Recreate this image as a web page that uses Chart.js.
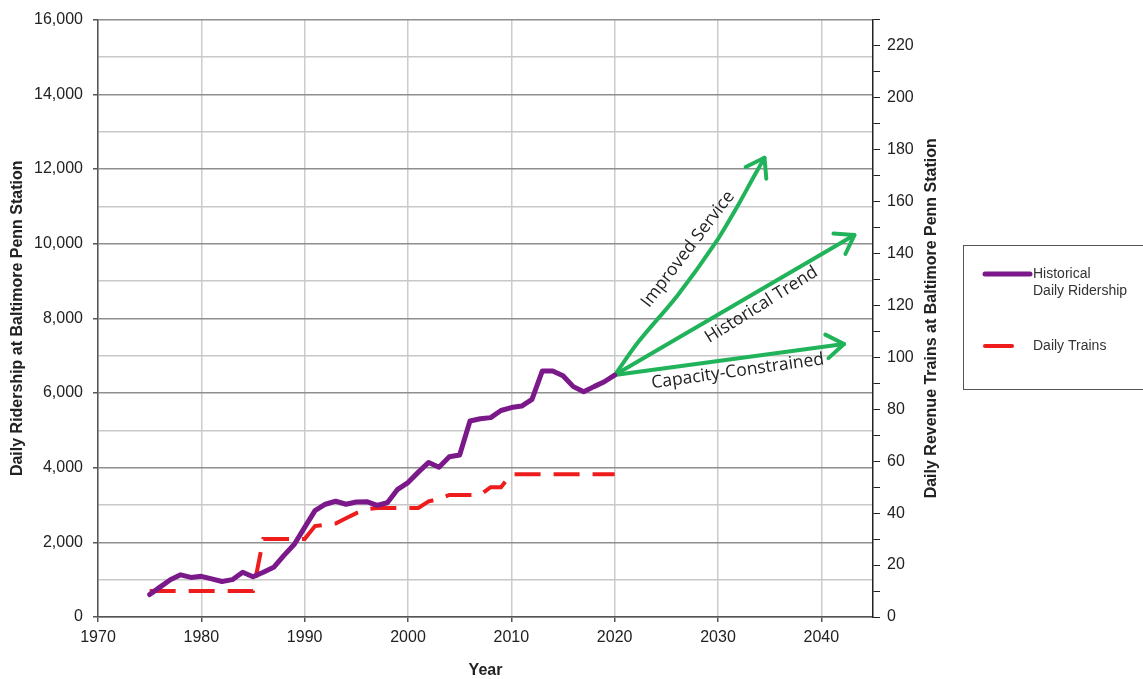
<!DOCTYPE html>
<html lang="en">
<head>
<meta charset="UTF-8">
<title>Baltimore Penn Station Ridership</title>
<script src="https://cdn.jsdelivr.net/npm/chart.js"></script>
<style>
    body { margin: 0; background: #fff; }
    #wrap { position: relative; width: 1143px; height: 679px; }
</style>
</head>
<body>
<div id="wrap"><canvas id="myChart"></canvas></div>
<script>
// historical series (one value per year)
const years = [1975, 1976, 1977, 1978, 1979, 1980, 1981, 1982, 1983, 1984,
               1985, 1986, 1987, 1988, 1989, 1990, 1991, 1992, 1993, 1994,
               1995, 1996, 1997, 1998, 1999, 2000, 2001, 2002, 2003, 2004,
               2005, 2006, 2007, 2008, 2009, 2010, 2011, 2012, 2013, 2014,
               2015, 2016, 2017, 2018, 2019, 2020];
const ridership = [600, 800, 1000, 1130, 1060, 1090, 1020, 950, 1000, 1200,
                   1080, 1200, 1330, 1650, 1950, 2400, 2850, 3020, 3100, 3020,
                   3080, 3090, 2990, 3060, 3420, 3600, 3880, 4140, 4010, 4290,
                   4340, 5250, 5310, 5340, 5530, 5610, 5650, 5830, 6590, 6590,
                   6460, 6170, 6030, 6170, 6300, 6480];
const dailyTrains = [10, 10, 10, 10, 10, 10, 10, 10, 10, 10,
                     10, 30, 30, 30, 30, 30, 35, 35.5, 36, 38,
                     40, 41.5, 42, 42, 42, 42, 42, 44.5, 45.5, 47,
                     47, 47, 47, 50, 50, 55, 55, 55, 55, 55,
                     55, 55, 55, 55, 55, 55];

// projections
const improvedYears = [2020, 2022.3, 2026.1, 2029.8, 2031.9, 2033.5, 2034.5];
const improvedValues = [6480, 7370, 8620, 10040, 11010, 11810, 12300];
const trendYears = [2020, 2043.2];
const trendValues = [6480, 10230];
const capacityYears = [2020, 2042.2];
const capacityValues = [6480, 7310];

const arrowLabels = [
    { text: 'Improved Service', x: 2027.1, y: 9850, angle: -52.6 },
    { text: 'Historical Trend', x: 2034.2, y: 8360, angle: -32 },
    { text: 'Capacity-Constrained', x: 2031.9, y: 6580, angle: -8 }
];

const PURPLE = '#7b188a';
const RED = '#ee1c1c';
const GREEN = '#21b35a';

function pts(xs, ys) {
    return xs.map((x, i) => ({ x: x, y: ys[i] }));
}

Chart.defaults.font.family = "'Liberation Sans', Arial, sans-serif";
Chart.defaults.font.size = 16;
Chart.defaults.color = '#222';

// arrow heads + labels along the projection lines
const arrowPlugin = {
    id: 'arrowPlugin',
    afterDatasetsDraw(chart) {
        const ctx = chart.ctx;
        ctx.save();
        chart.data.datasets.forEach((ds, i) => {
            if (!ds.arrow) return;
            const pts = chart.getDatasetMeta(i).data;
            const tip = pts[pts.length - 1];
            const prev = pts[pts.length - 2];
            const ang = Math.atan2(tip.y - prev.y, tip.x - prev.x);
            const len = 21, spread = 0.6;
            ctx.strokeStyle = ds.borderColor;
            ctx.lineWidth = 4;
            ctx.lineCap = 'round';
            ctx.lineJoin = 'round';
            ctx.beginPath();
            ctx.moveTo(tip.x - len * Math.cos(ang - spread), tip.y - len * Math.sin(ang - spread));
            ctx.lineTo(tip.x, tip.y);
            ctx.lineTo(tip.x - len * Math.cos(ang + spread), tip.y - len * Math.sin(ang + spread));
            ctx.stroke();
        });
        const xs = chart.scales.x, ys = chart.scales.y;
        ctx.fillStyle = '#222';
        ctx.font = "17.5px 'Open Sans', sans-serif";
        ctx.textAlign = 'center';
        ctx.textBaseline = 'middle';
        arrowLabels.forEach(l => {
            ctx.save();
            ctx.translate(xs.getPixelForValue(l.x), ys.getPixelForValue(l.y));
            ctx.rotate(l.angle * Math.PI / 180);
            ctx.fillText(l.text, 0, 0);
            ctx.restore();
        });
        ctx.restore();
    }
};

// right axis title (reads bottom-to-top) and the legend box
const extrasPlugin = {
    id: 'extrasPlugin',
    afterDraw(chart) {
        const ctx = chart.ctx;
        const area = chart.chartArea;
        ctx.save();
        ctx.fillStyle = '#222';
        ctx.font = "bold 16px 'Liberation Sans', Arial, sans-serif";
        ctx.textAlign = 'center';
        ctx.textBaseline = 'middle';
        ctx.translate(932, (area.top + area.bottom) / 2);
        ctx.rotate(-Math.PI / 2);
        ctx.fillText('Daily Revenue Trains at Baltimore Penn Station', 0, 0);
        ctx.restore();

        ctx.save();
        ctx.strokeStyle = '#555';
        ctx.lineWidth = 1;
        ctx.strokeRect(963.5, 245.5, 200, 144);
        ctx.lineCap = 'round';
        ctx.strokeStyle = PURPLE;
        ctx.lineWidth = 5;
        ctx.beginPath(); ctx.moveTo(985, 274); ctx.lineTo(1030, 274); ctx.stroke();
        ctx.strokeStyle = RED;
        ctx.lineWidth = 4;
        ctx.beginPath(); ctx.moveTo(985, 346); ctx.lineTo(1012, 346); ctx.stroke();
        ctx.fillStyle = '#333';
        ctx.font = "14px 'Liberation Sans', Arial, sans-serif";
        ctx.textBaseline = 'middle';
        ctx.fillText('Historical', 1033, 274);
        ctx.fillText('Daily Ridership', 1033, 291);
        ctx.fillText('Daily Trains', 1033, 346);
        ctx.restore();
    }
};

const ctx = document.getElementById('myChart').getContext('2d');
const myChart = new Chart(ctx, {
    type: 'line',
    data: {
        datasets: [
            {
                label: 'Historical Daily Ridership',
                data: pts(years, ridership),
                borderColor: PURPLE,
                borderWidth: 5,
                borderJoinStyle: 'round',
                borderCapStyle: 'round',
                pointRadius: 0,
                tension: 0,
                yAxisID: 'y'
            },
            {
                label: 'Daily Trains',
                data: pts(years, dailyTrains),
                borderColor: RED,
                borderWidth: 4,
                borderDash: [26, 13],
                pointRadius: 0,
                tension: 0,
                yAxisID: 'y2'
            },
            {
                label: 'Improved Service',
                data: pts(improvedYears, improvedValues),
                borderColor: GREEN,
                borderWidth: 4,
                borderCapStyle: 'round',
                pointRadius: 0,
                tension: 0.3,
                arrow: true,
                yAxisID: 'y'
            },
            {
                label: 'Historical Trend',
                data: pts(trendYears, trendValues),
                borderColor: GREEN,
                borderWidth: 4,
                borderCapStyle: 'round',
                pointRadius: 0,
                arrow: true,
                yAxisID: 'y'
            },
            {
                label: 'Capacity-Constrained',
                data: pts(capacityYears, capacityValues),
                borderColor: GREEN,
                borderWidth: 4,
                borderCapStyle: 'round',
                pointRadius: 0,
                arrow: true,
                yAxisID: 'y'
            }
        ]
    },
    options: {
        responsive: true,
        maintainAspectRatio: false,
        animation: false,
        layout: { padding: { top: 16, right: 210, bottom: 0, left: 0 } },
        plugins: {
            legend: { display: false },
            tooltip: { enabled: false }
        },
        scales: {
            x: {
                type: 'linear',
                min: 1970,
                max: 2045,
                afterFit: s => { s.height = 62; },
                ticks: {
                    stepSize: 10,
                    includeBounds: false,
                    padding: 6,
                    callback: v => String(v)
                },
                grid: { color: '#cccccc', lineWidth: 1.5, tickLength: 5, tickColor: '#555' },
                border: { color: '#555', width: 1.5 },
                title: {
                    display: true,
                    text: 'Year',
                    font: { weight: 'bold', size: 16, lineHeight: 1 },
                    padding: { top: 0, bottom: 0 }
                }
            },
            y: {
                position: 'left',
                min: 0,
                max: 16000,
                afterFit: s => { s.width = 98; },
                ticks: {
                    stepSize: 1000,
                    padding: 10,
                    callback: v => v % 2000 === 0 ? v.toLocaleString('en-US') : ''
                },
                grid: {
                    color: c => c.tick && c.tick.value % 2000 === 0 ? '#8e8e8e' : '#c8c8c8',
                    lineWidth: 1.5,
                    tickLength: 5,
                    tickColor: c => c.tick && c.tick.value % 2000 === 0 ? '#555' : 'rgba(0,0,0,0)'
                },
                border: { color: '#555', width: 1.5 },
                title: {
                    display: true,
                    text: 'Daily Ridership at Baltimore Penn Station',
                    font: { weight: 'bold', size: 16, lineHeight: 1 },
                    padding: { top: 10, bottom: 0 }
                }
            },
            y2: {
                position: 'right',
                min: 0,
                max: 230,
                afterFit: s => { s.width = 60; },
                ticks: {
                    stepSize: 10,
                    includeBounds: false,
                    padding: 7,
                    callback: v => v % 20 === 0 ? String(v) : ''
                },
                grid: { drawOnChartArea: false, tickLength: 7, tickColor: '#222' },
                border: { color: '#222', width: 1.5 }
            }
        }
    },
    plugins: [arrowPlugin, extrasPlugin]
});
</script>
</body>
</html>
